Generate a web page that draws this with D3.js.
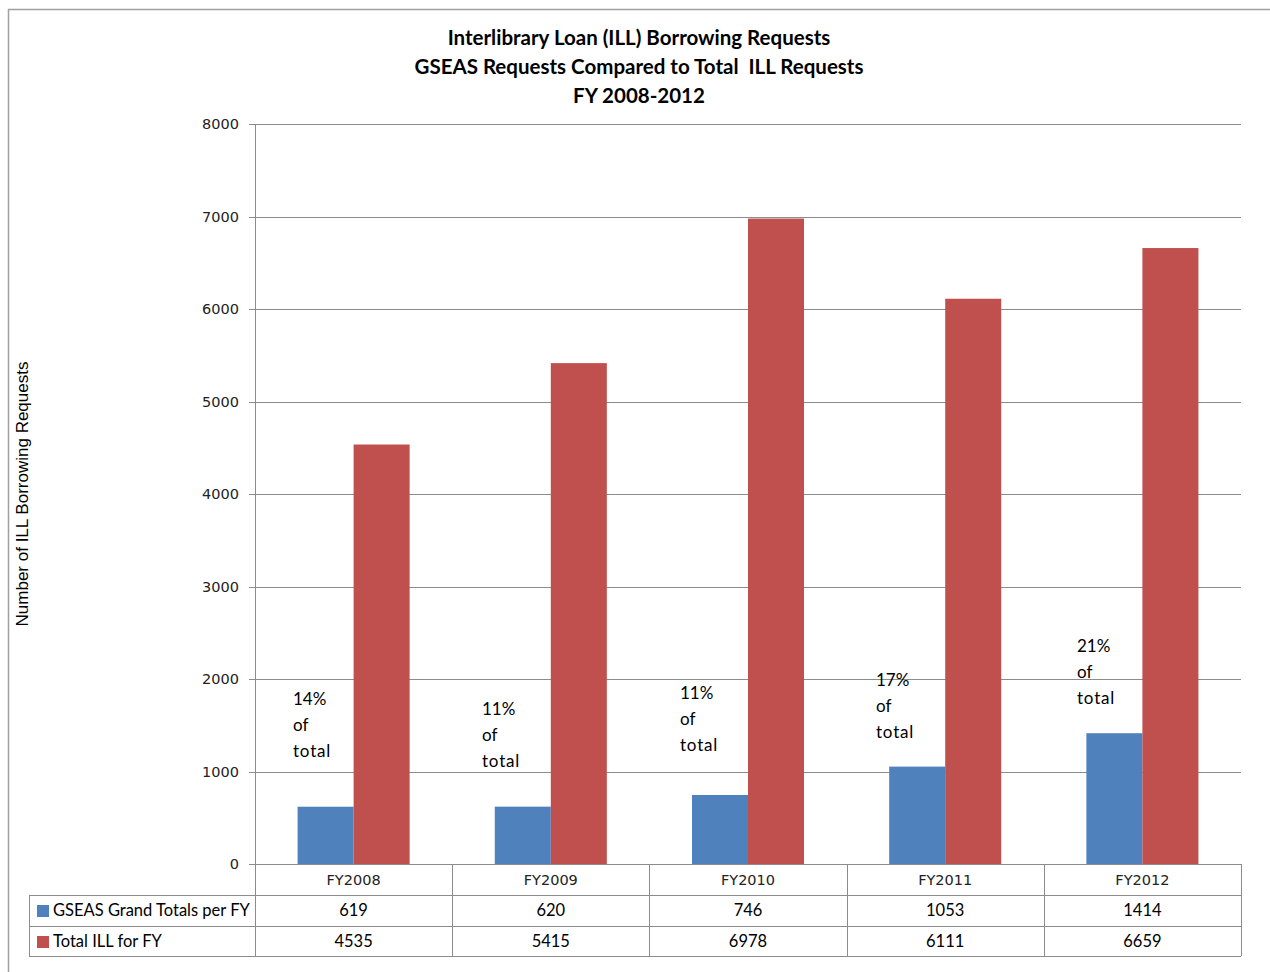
<!DOCTYPE html>
<html>
<head>
<meta charset="utf-8">
<script src="https://d3js.org/d3.v7.min.js"></script>
<style>
  body { margin: 0; background: #fff; }
  svg { display: block; }
</style>
</head>
<body>
<div id="chart"></div>
<script>
// Chart data
const years = ["FY2008", "FY2009", "FY2010", "FY2011", "FY2012"];
const seriesNames = ["GSEAS Grand Totals per FY", "Total ILL for FY"];
const gseasTotals = [619, 620, 746, 1053, 1414];
const illTotals = [4535, 5415, 6978, 6111, 6659];
const shareLabels = ["14%", "11%", "11%", "17%", "21%"];
const yTicks = [0, 1000, 2000, 3000, 4000, 5000, 6000, 7000, 8000];
const titleLines = ["Interlibrary Loan (ILL) Borrowing Requests",
                    "GSEAS Requests Compared to Total  ILL Requests",
                    "FY 2008-2012"];

const width = 1270, height = 972;
const plot = {left: 255, right: 1241, top: 124, bottom: 864};
const colors = ["#4F81BD", "#C0504D"];
const gridColor = "#8c8c8c";

const svg = d3.select("#chart")
              .append("svg")
              .attr("width", width)
              .attr("height", height);

// Outer chart frame (only top and left are visible in the picture)
svg.append("rect")
   .attr("x", 8.5).attr("y", 9.5)
   .attr("width", 1300).attr("height", 1000)
   .attr("fill", "none")
   .attr("stroke", "#a0a0a0")
   .attr("stroke-width", 1.5);

// Title
svg.append("g")
   .selectAll("text")
   .data(titleLines)
   .enter()
   .append("text")
   .attr("x", 639)
   .attr("y", (d, i) => 45 + i * 29)
   .attr("text-anchor", "middle")
   .style("white-space", "pre")
   .style("font-family", "Lato, 'Open Sans', sans-serif")
   .style("font-weight", "bold")
   .style("font-size", "20.5px")
   .style("fill", "#000")
   .text(d => d);

// Scales
const xScale = d3.scaleBand()
                 .domain(years)
                 .range([plot.left, plot.right]);
const xInner = d3.scaleBand()
                 .domain([0, 1])
                 .range([0, xScale.bandwidth()])
                 .paddingOuter(0.76);
const yScale = d3.scaleLinear()
                 .domain([0, 8000])
                 .range([plot.bottom, plot.top]);

// Gridlines
svg.append("g")
   .selectAll("line")
   .data(yTicks)
   .enter()
   .append("line")
   .attr("x1", plot.left - 6)
   .attr("x2", plot.right)
   .attr("y1", d => Math.round(yScale(d)) + 0.5)
   .attr("y2", d => Math.round(yScale(d)) + 0.5)
   .attr("stroke", gridColor)
   .attr("stroke-width", 1);

// Y axis labels
svg.append("g")
   .selectAll("text")
   .data(yTicks)
   .enter()
   .append("text")
   .attr("x", plot.left - 16)
   .attr("y", d => yScale(d) + 5)
   .attr("text-anchor", "end")
   .style("font-family", "'DejaVu Sans', Verdana, sans-serif")
   .style("font-size", "14.5px")
   .style("fill", "#222")
   .text(d => d);

// Y axis title
svg.append("text")
   .attr("transform", "translate(28,494) rotate(-90)")
   .attr("text-anchor", "middle")
   .style("font-family", "'Liberation Sans', Arial, sans-serif")
   .style("font-size", "17px")
   .style("fill", "#000")
   .text("Number of ILL Borrowing Requests");

// Bars
const rows = years.map((y, i) => ({year: y, values: [gseasTotals[i], illTotals[i]]}));
const groups = svg.append("g")
                  .selectAll("g")
                  .data(rows)
                  .enter()
                  .append("g")
                  .attr("transform", d => "translate(" + xScale(d.year) + ",0)");
groups.selectAll("rect")
      .data(d => d.values.map((v, k) => ({k: k, v: v})))
      .enter()
      .append("rect")
      .attr("x", d => xInner(d.k))
      .attr("width", xInner.bandwidth())
      .attr("y", d => yScale(d.v))
      .attr("height", d => yScale(0) - yScale(d.v))
      .attr("fill", d => colors[d.k]);

// Y axis line
svg.append("line")
   .attr("x1", plot.left + 0.5).attr("x2", plot.left + 0.5)
   .attr("y1", plot.top).attr("y2", plot.bottom)
   .attr("stroke", gridColor);

// "% of total" annotations (hand-placed above the blue bars like the original text boxes)
const annotPos = [[293, 699], [482, 709], [680, 693], [876, 680], [1077, 646]];
shareLabels.forEach(function (lab, i) {
    const t = svg.append("text")
                 .style("font-family", "Lato, 'Open Sans', sans-serif")
                 .style("font-size", "17px")
                 .style("fill", "#000");
    [lab, "of", "total"].forEach(function (s, j) {
        t.append("tspan")
         .attr("x", annotPos[i][0])
         .attr("y", annotPos[i][1] + 6 + j * 26)
         .style("letter-spacing", s === "total" ? "0.8px" : "0px")
         .text(s);
    });
});

// Data table
const rowH = [plot.bottom, 895, 926, 956];
const tableLeft = 29;
const table = svg.append("g");
const tLine = (x1, y1, x2, y2) => table.append("line")
    .attr("x1", x1).attr("y1", y1).attr("x2", x2).attr("y2", y2)
    .attr("stroke", gridColor).attr("stroke-width", 1);

// horizontal lines
tLine(plot.left, rowH[0] + 0.5, plot.right, rowH[0] + 0.5);
tLine(tableLeft, rowH[1] + 0.5, plot.right, rowH[1] + 0.5);
tLine(tableLeft, rowH[2] + 0.5, plot.right, rowH[2] + 0.5);
tLine(tableLeft, rowH[3] + 0.5, plot.right, rowH[3] + 0.5);
// vertical lines
tLine(tableLeft + 0.5, rowH[1], tableLeft + 0.5, rowH[3]);
years.forEach(function (y) {
    const x = Math.round(xScale(y)) + 0.5;
    tLine(x, rowH[0], x, rowH[3]);
});
tLine(plot.right + 0.5, rowH[0], plot.right + 0.5, rowH[3]);

// header row
table.selectAll("text.hdr")
     .data(years)
     .enter()
     .append("text")
     .attr("class", "hdr")
     .attr("x", d => xScale(d) + xScale.bandwidth() / 2)
     .attr("y", rowH[0] + 21)
     .attr("text-anchor", "middle")
     .style("font-family", "'DejaVu Sans', Verdana, sans-serif")
     .style("font-size", "14.5px")
     .style("fill", "#222")
     .text(d => d);

// value rows with legend keys
[gseasTotals, illTotals].forEach(function (vals, r) {
    const yBase = rowH[r + 1] + 21;
    table.append("rect")
         .attr("x", 37).attr("y", rowH[r + 1] + 10)
         .attr("width", 12).attr("height", 12)
         .attr("fill", colors[r]);
    table.append("text")
         .attr("x", 53)
         .attr("y", yBase)
         .style("font-family", "Lato, 'Open Sans', sans-serif")
         .style("font-size", "16.5px")
         .style("fill", "#000")
         .text(seriesNames[r]);
    table.selectAll("text.v" + r)
         .data(vals)
         .enter()
         .append("text")
         .attr("class", "v" + r)
         .attr("x", (d, i) => xScale(years[i]) + xScale.bandwidth() / 2)
         .attr("y", yBase)
         .attr("text-anchor", "middle")
         .style("font-family", "Lato, 'Open Sans', sans-serif")
         .style("font-size", "16.5px")
         .style("fill", "#000")
         .text(d => d);
});
</script>
</body>
</html>
